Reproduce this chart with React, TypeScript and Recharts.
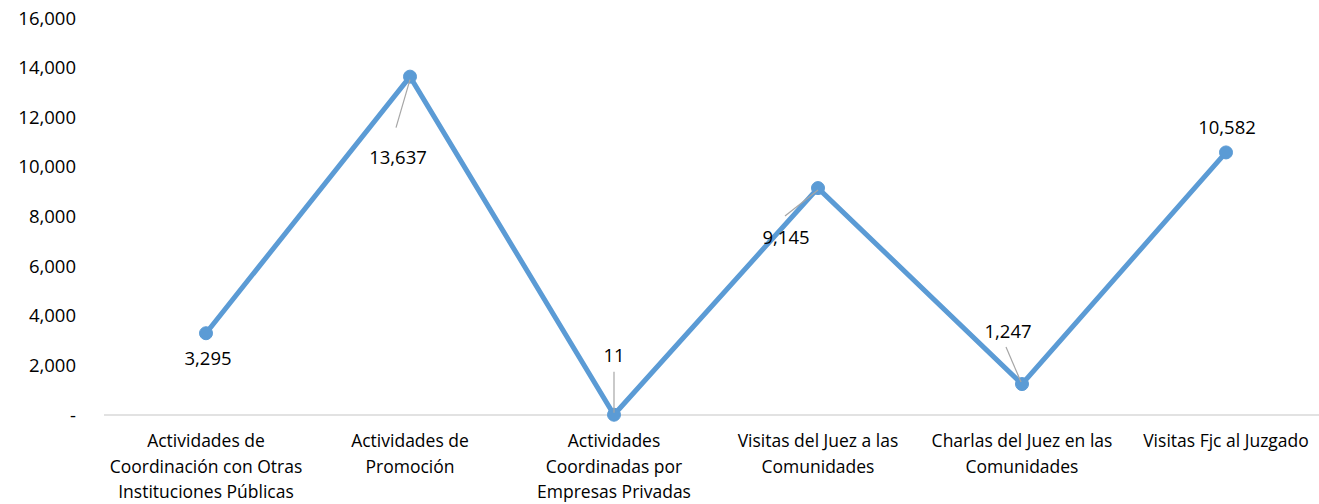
import { LineChart, Line, XAxis, YAxis, LabelList } from "recharts";

const categories = [
  "Actividades de\nCoordinación con Otras\nInstituciones Públicas",
  "Actividades de\nPromoción",
  "Actividades\nCoordinadas por\nEmpresas Privadas",
  "Visitas del Juez a las\nComunidades",
  "Charlas del Juez en las\nComunidades",
  "Visitas Fjc al Juzgado",
];
const values = [3295, 13637, 11, 9145, 1247, 10582];
const yTicks = [0, 2000, 4000, 6000, 8000, 10000, 12000, 14000, 16000];

// label placement relative to the point (dx, dy) + optional leader line
const labelPos = [
  { dx: 2, dy: 24, lead: null },
  { dx: -12, dy: 80, lead: [0, 3, -14, 51] },
  { dx: 0, dy: -60, lead: [0, -43, 0, -2] },
  { dx: -32, dy: 48, lead: [0, 2, -33, 28] },
  { dx: -14, dy: -54, lead: [-16, -37, -1, -2] },
  { dx: 1, dy: -26, lead: null },
];

const data = categories.map((name, i) => ({ name, value: values[i] }));

const FONT = "'Open Sans', sans-serif";

const fmt = (v: number) => (v === 0 ? "-" : v.toLocaleString("en-US"));

function CatTick({ x, y, payload }: any) {
  const lines = String(payload.value).split("\n");
  return (
    <text x={x} y={y} textAnchor="middle" fontFamily={FONT} fontSize={17.5} fill="#000">
      {lines.map((l, i) => (
        <tspan key={i} x={x} dy={i === 0 ? 30 : 25.5}>
          {l}
        </tspan>
      ))}
    </text>
  );
}

function PointLabel(props: any) {
  const { x, y, value, index } = props;
  const p = labelPos[index];
  return (
    <g>
      {p.lead && (
        <line
          x1={x + p.lead[0]}
          y1={y + p.lead[1]}
          x2={x + p.lead[2]}
          y2={y + p.lead[3]}
          stroke="#A6A6A6"
          strokeWidth={1.2}
        />
      )}
      <text
        x={x + p.dx}
        y={y + p.dy}
        textAnchor="middle"
        dominantBaseline="central"
        fontFamily={FONT}
        fontSize={18.5}
        fill="#000"
      >
        {fmt(value)}
      </text>
    </g>
  );
}

export default function App() {
  return (
    <div style={{ position: "absolute", left: 0, top: 0, width: 1319, height: 504, overflow: "hidden", background: "#fff" }}>
      <LineChart width={1328} height={504} data={data} margin={{ top: 18, right: 0, left: 0, bottom: 59 }}>
        <XAxis
          dataKey="name"
          height={30}
          padding={{ left: 102, right: 102 }}
          axisLine={{ stroke: "#D9D9D9", strokeWidth: 1.5 }}
          tickLine={false}
          tickSize={0}
          tick={<CatTick />}
          interval={0}
        />
        <YAxis
          width={104}
          domain={[0, 16000]}
          ticks={yTicks}
          axisLine={false}
          tickLine={false}
          tickSize={0}
          tickMargin={28}
          tickFormatter={fmt}
          tick={{ fontFamily: FONT, fontSize: 18.5, fill: "#000" }}
        />
        <Line
          type="linear"
          dataKey="value"
          stroke="#5B9BD5"
          strokeWidth={5}
          dot={{ r: 6.5, fill: "#5B9BD5", stroke: "#5B9BD5", strokeWidth: 1 }}
          isAnimationActive={false}
        >
          <LabelList dataKey="value" content={<PointLabel />} />
        </Line>
      </LineChart>
    </div>
  );
}
